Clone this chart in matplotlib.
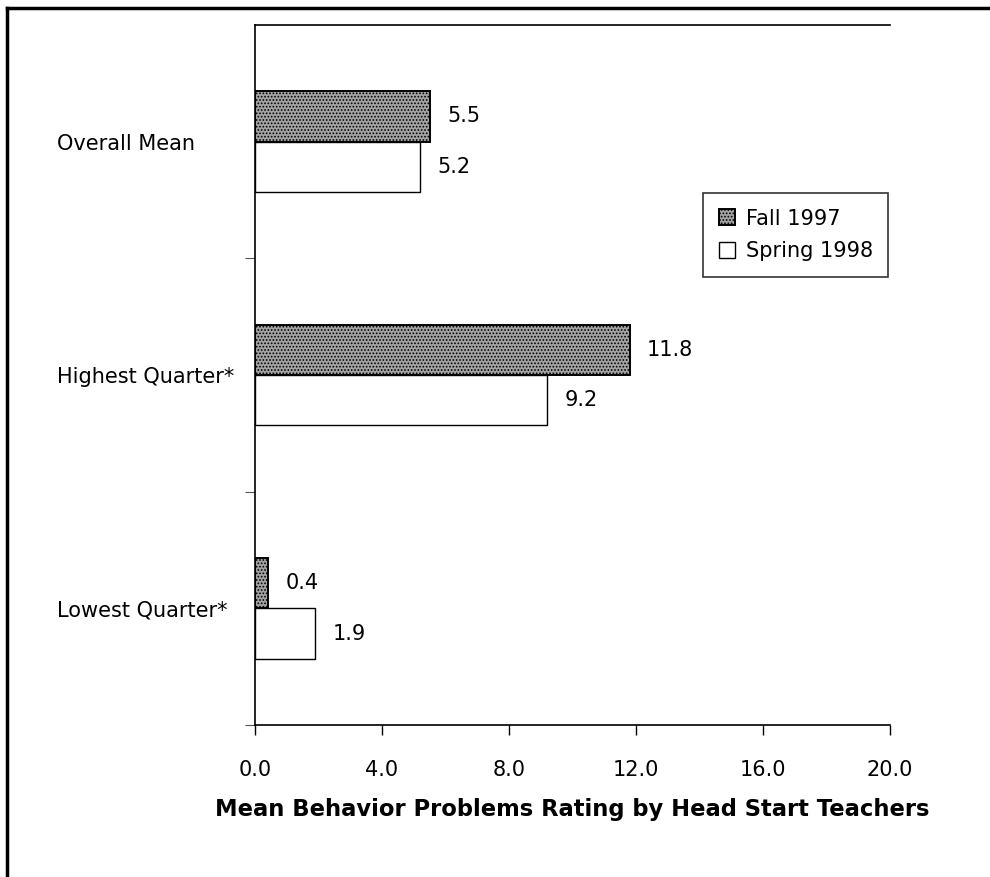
import matplotlib
matplotlib.use("Agg")
import matplotlib.pyplot as plt
from matplotlib.lines import Line2D
import numpy as np

categories = ["Overall Mean", "Highest Quarter*", "Lowest Quarter*"]
fall_1997 = [5.5, 11.8, 0.4]
spring_1998 = [5.2, 9.2, 1.9]
xticks = [0, 4, 8, 12, 16, 20]
xtick_labels = ["0.0", "4.0", "8.0", "12.0", "16.0", "20.0"]
series_names = ["Fall 1997", "Spring 1998"]
xlabel = "Mean Behavior Problems Rating by Head Start Teachers"

W, H = 990, 877
fig = plt.figure(figsize=(W / 100, H / 100), dpi=100)
plt.rcParams['font.family'] = ['DejaVu Sans']
plt.rcParams['hatch.color'] = '#666666'
plt.rcParams['hatch.linewidth'] = 0.8

FS = 15

ax_left, ax_right, ax_top, ax_bottom = 255, 890, 25, 725
ax = fig.add_axes([ax_left / W, 1 - ax_bottom / H, (ax_right - ax_left) / W, (ax_bottom - ax_top) / H])

n = len(categories)
y = np.arange(n)
bh = 0.216
ax.barh(y - bh / 2, fall_1997, height=bh, color='#a3a3a3', edgecolor='black', linewidth=1.4,
        hatch='.....', label=series_names[0])
ax.barh(y + bh / 2, spring_1998, height=bh, color='white', edgecolor='black', linewidth=1.0,
        label=series_names[1])

for yi, v in zip(y, fall_1997):
    ax.text(v + 0.55, yi - bh / 2, f"{v:.1f}", va='center', ha='left', fontsize=FS)
for yi, v in zip(y, spring_1998):
    ax.text(v + 0.55, yi + bh / 2, f"{v:.1f}", va='center', ha='left', fontsize=FS)

ax.set_xlim(0, 20)
ax.set_ylim(n - 0.5, -0.5)
ax.set_xticks(xticks)
ax.set_xticklabels(xtick_labels, fontsize=FS)
ax.tick_params(axis='x', direction='out', length=7, width=1, pad=18)

# y axis: ticks at category boundaries (not at top), labels at centers
ax.set_yticks(np.arange(0.5, n, 1.0))
ax.set_yticklabels([])
ax.tick_params(axis='y', direction='out', length=7, width=0.8, color='#555555')
ax.set_yticks(y, minor=True)
ax.set_yticklabels(categories, minor=True, fontsize=FS)
ax.tick_params(axis='y', which='minor', length=0, pad=142.5)
for lab in ax.yaxis.get_minorticklabels():
    lab.set_horizontalalignment('left')

ax.spines['right'].set_visible(False)
for s in ['left', 'bottom', 'top']:
    ax.spines[s].set_linewidth(1.2)

ax.set_xlabel(xlabel, fontsize=16.3, fontweight='bold', labelpad=13.5)

leg = ax.legend(loc='upper left', bbox_to_anchor=((703 - ax_left) / 635, 1 - (193 - ax_top) / 700),
                frameon=True, fancybox=False, edgecolor='black', fontsize=FS,
                handlelength=0.8, handleheight=0.8, handletextpad=0.5, borderpad=0.75,
                labelspacing=0.6, borderaxespad=0)
leg.get_frame().set_linewidth(1.2)

# outer frame (left and top edges)
fig.add_artist(Line2D([7 / W, 7 / W], [0, 1 - 8 / H], transform=fig.transFigure, color='black', linewidth=2.5))
fig.add_artist(Line2D([7 / W, 1], [1 - 8 / H, 1 - 8 / H], transform=fig.transFigure, color='black', linewidth=2.5))

fig.savefig("out.png", dpi=100)
